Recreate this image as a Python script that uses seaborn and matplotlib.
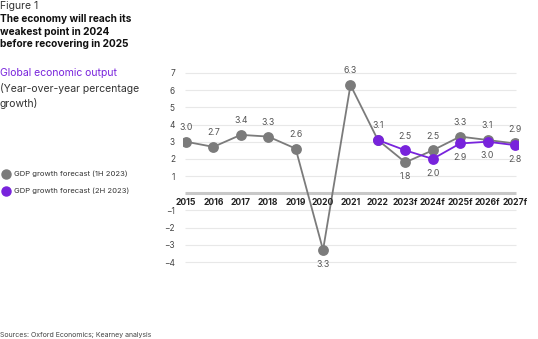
import matplotlib
matplotlib.use("Agg")
import matplotlib.pyplot as plt
import seaborn as sns
import pandas as pd
import numpy as np

years = ["2015", "2016", "2017", "2018", "2019", "2020", "2021", "2022",
         "2023f", "2024f", "2025f", "2026f", "2027f"]
gdp_1h = [3.0, 2.7, 3.4, 3.3, 2.6, -3.3, 6.3, 3.1, 1.8, 2.5, 3.3, 3.1, 2.9]
years_2h = ["2022", "2023f", "2024f", "2025f", "2026f", "2027f"]
gdp_2h = [3.1, 2.5, 2.0, 2.9, 3.0, 2.8]
# label placement: +1 above, -1 below, 0 none
pos_1h = [1, 1, 1, 1, 1, -1, 1, 1, -1, 1, 1, 1, 1]
pos_2h = [0, 1, -1, -1, -1, -1]
yticks = [-4, -3, -2, -1, 1, 2, 3, 4, 5, 6, 7]

GRAY = "#7b7b7b"
PURPLE = "#7823DC"
FONT = ["Inter", "DejaVu Sans"]

sns.set_theme(style="white")
plt.rcParams['font.family'] = FONT

fig = plt.figure(figsize=(5.38, 3.39), dpi=100)
ax = fig.add_axes([0.3406, 0.2170, 0.6217, 0.5778])

idx = {y: i for i, y in enumerate(years)}
df1 = pd.DataFrame({"x": [idx[y] for y in years], "v": gdp_1h})
df2 = pd.DataFrame({"x": [idx[y] for y in years_2h], "v": gdp_2h})

ax.set_xlim(-0.1, 12.1)
ax.set_ylim(-4.2, 7.2)
for t in yticks:
    ax.hlines(t, -0.02, 12.02, color="#e8e8e8", lw=0.8, zorder=0)
ax.hlines(0, -0.02, 12.02, color="#c8c8c8", lw=2.2, zorder=1)

sns.lineplot(data=df1, x="x", y="v", ax=ax, color=GRAY, lw=1.3, marker="o",
             markersize=7.8, markeredgewidth=0, zorder=3)
sns.lineplot(data=df2, x="x", y="v", ax=ax, color=PURPLE, lw=1.3, marker="o",
             markersize=7.8, markeredgewidth=0, zorder=4)

for x, v, p in zip(df1["x"], gdp_1h, pos_1h):
    if p:
        ax.annotate(f"{abs(v):.1f}", (x, v), xytext=(0, 7 * p), textcoords="offset points",
                    ha="center", va="bottom" if p > 0 else "top", fontsize=6.3, color="#555555")
for x, v, p in zip(df2["x"], gdp_2h, pos_2h):
    if p:
        ax.annotate(f"{abs(v):.1f}", (x, v), xytext=(0, 7 * p), textcoords="offset points",
                    ha="center", va="bottom" if p > 0 else "top", fontsize=6.3, color="#555555")

ax.set_yticks(yticks)
ax.set_yticklabels([str(t).replace("-", "\u2212") for t in yticks], fontsize=6, color="#444444")
ax.tick_params(axis="y", length=0, pad=6)
ax.set_xticks([])
for i, y in enumerate(years):
    ax.text(i, -0.25, y, ha="center", va="top", fontsize=6.2, fontweight="bold", color="#222222")
ax.set_xlabel("")
ax.set_ylabel("")
for s in ax.spines.values():
    s.set_visible(False)
ax.patch.set_alpha(0)

fig.text(0.0, 0.997, "Figure 1", fontsize=7.5, color="#333333", va="top")
fig.text(0.0, 0.958, "The economy will reach its\nweakest point in 2024\nbefore recovering in 2025",
         fontsize=7.3, fontweight="bold", color="#111111", va="top", linespacing=1.3)
fig.text(0.0, 0.80, "Global economic output", fontsize=7.5, color=PURPLE, va="top")
fig.text(0.0, 0.755, "(Year-over-year percentage\ngrowth)", fontsize=7.5, color="#333333",
         va="top", linespacing=1.4)

fig.lines.append(plt.Line2D([0.011], [0.488], marker="o", color=GRAY, markersize=6.5,
                            transform=fig.transFigure, lw=0))
fig.text(0.026, 0.488, "GDP growth forecast (1H 2023)", fontsize=5.5, color="#333333", va="center")
fig.lines.append(plt.Line2D([0.011], [0.438], marker="o", color=PURPLE, markersize=6.5,
                            transform=fig.transFigure, lw=0))
fig.text(0.026, 0.438, "GDP growth forecast (2H 2023)", fontsize=5.5, color="#333333", va="center")

fig.text(0.0, 0.004, "Sources: Oxford Economics; Kearney analysis", fontsize=5, color="#444444",
         va="bottom")

fig.savefig("out.png", dpi=100)
